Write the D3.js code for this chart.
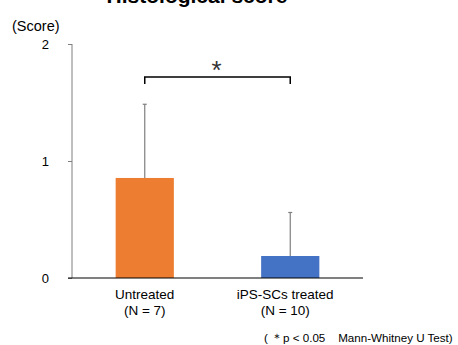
<!DOCTYPE html>
<html>
<head>
<meta charset="utf-8">
<script src="https://cdn.jsdelivr.net/npm/d3@7"></script>
<style>
  body { margin: 0; background: #fff; }
  text { font-family: "Liberation Sans", Arial, sans-serif; }
</style>
</head>
<body>
<svg id="chart" width="458" height="345"></svg>
<script>
// data
const groups = ["Untreated", "iPS-SCs treated"]
const groupN = ["(N = 7)", "(N = 10)"]
const means = [0.855, 0.188]
const errors = [0.63, 0.372]
const barColors = ["#ED7D31", "#4472C4"]
const yTicks = [0, 1, 2]

let width = 458
let height = 345
let margin = ({ top: 44, right: 95, bottom: 67, left: 72 })

const svg = d3.select("#chart")

let x = d3.scaleBand()
    .domain(groups)
    .range([margin.left, width - margin.right])
    .paddingInner(0.6)
    .paddingOuter(0.3)

let y = d3.scaleLinear()
    .domain([0, 2])
    .range([height - margin.bottom, margin.top])

// title (cut off at the top in the original)
svg.append("text")
    .attr("x", 197)
    .attr("y", 3)
    .attr("text-anchor", "middle")
    .attr("font-size", 21)
    .attr("font-weight", "bold")
    .text("Histological score")

svg.append("text")
    .attr("x", 12)
    .attr("y", 31)
    .attr("font-size", 14.5)
    .text("(Score)")

// y axis
let yAxis = g => g
    .attr("transform", `translate(${margin.left},0)`)
    .call(d3.axisLeft(y).tickValues(yTicks).tickFormat(d3.format("d")).tickSize(4).tickPadding(19))
    .call(g => g.select(".domain").attr("stroke", "#7f7f7f").attr("d", `M0,${y(2)}V${y(0)}`))
    .call(g => g.selectAll(".tick line").attr("stroke", "#7f7f7f"))
    .call(g => g.selectAll(".tick text").attr("font-size", 13).attr("font-family", "Liberation Sans, Arial, sans-serif").attr("fill", "#000"))

svg.append("g").call(yAxis)

// bars
svg.append("g")
  .selectAll("rect")
  .data(groups)
  .join("rect")
    .attr("x", d => x(d))
    .attr("y", (d, i) => y(means[i]))
    .attr("width", x.bandwidth())
    .attr("height", (d, i) => y(0) - y(means[i]))
    .attr("fill", (d, i) => barColors[i])

// error bars (upper only)
const eb = svg.append("g").attr("stroke", "#7f7f7f").attr("stroke-width", 1.2)
groups.forEach((d, i) => {
    let cx = x(d) + x.bandwidth() / 2
    eb.append("line")
        .attr("x1", cx).attr("x2", cx)
        .attr("y1", y(means[i])).attr("y2", y(means[i] + errors[i]))
    eb.append("line")
        .attr("x1", cx - 2).attr("x2", cx + 2)
        .attr("y1", y(means[i] + errors[i])).attr("y2", y(means[i] + errors[i]))
})

// x baseline
svg.append("line")
    .attr("x1", 68).attr("x2", width - margin.right)
    .attr("y1", y(0)).attr("y2", y(0))
    .attr("stroke", "#000")
    .attr("stroke-width", 1.2)

// category labels
groups.forEach((d, i) => {
    let cx = x(d) + x.bandwidth() / 2 - (i === 1 ? 5 : 0)
    svg.append("text")
        .attr("x", cx).attr("y", 299)
        .attr("text-anchor", "middle")
        .attr("font-size", 13.5)
        .text(d)
    svg.append("text")
        .attr("x", cx).attr("y", 315)
        .attr("text-anchor", "middle")
        .attr("font-size", 13.5)
        .text(groupN[i])
})

// significance bracket
let bx1 = x(groups[0]) + x.bandwidth() / 2
let bx2 = x(groups[1]) + x.bandwidth() / 2
let by = 77
svg.append("path")
    .attr("d", `M${bx1},${by + 7}V${by}H${bx2}V${by + 7}`)
    .attr("fill", "none")
    .attr("stroke", "#000")
    .attr("stroke-width", 1.5)

svg.append("text")
    .attr("x", (bx1 + bx2) / 2 - 1)
    .attr("y", 79)
    .attr("text-anchor", "middle")
    .attr("font-size", 26)
    .attr("fill", "#333")
    .text("*")

// footnote
svg.append("text")
    .attr("x", 264)
    .attr("y", 342)
    .attr("font-size", 11.6)
    .attr("xml:space", "preserve")
    .text("( ＊p < 0.05    Mann-Whitney U Test)")
</script>
</body>
</html>
